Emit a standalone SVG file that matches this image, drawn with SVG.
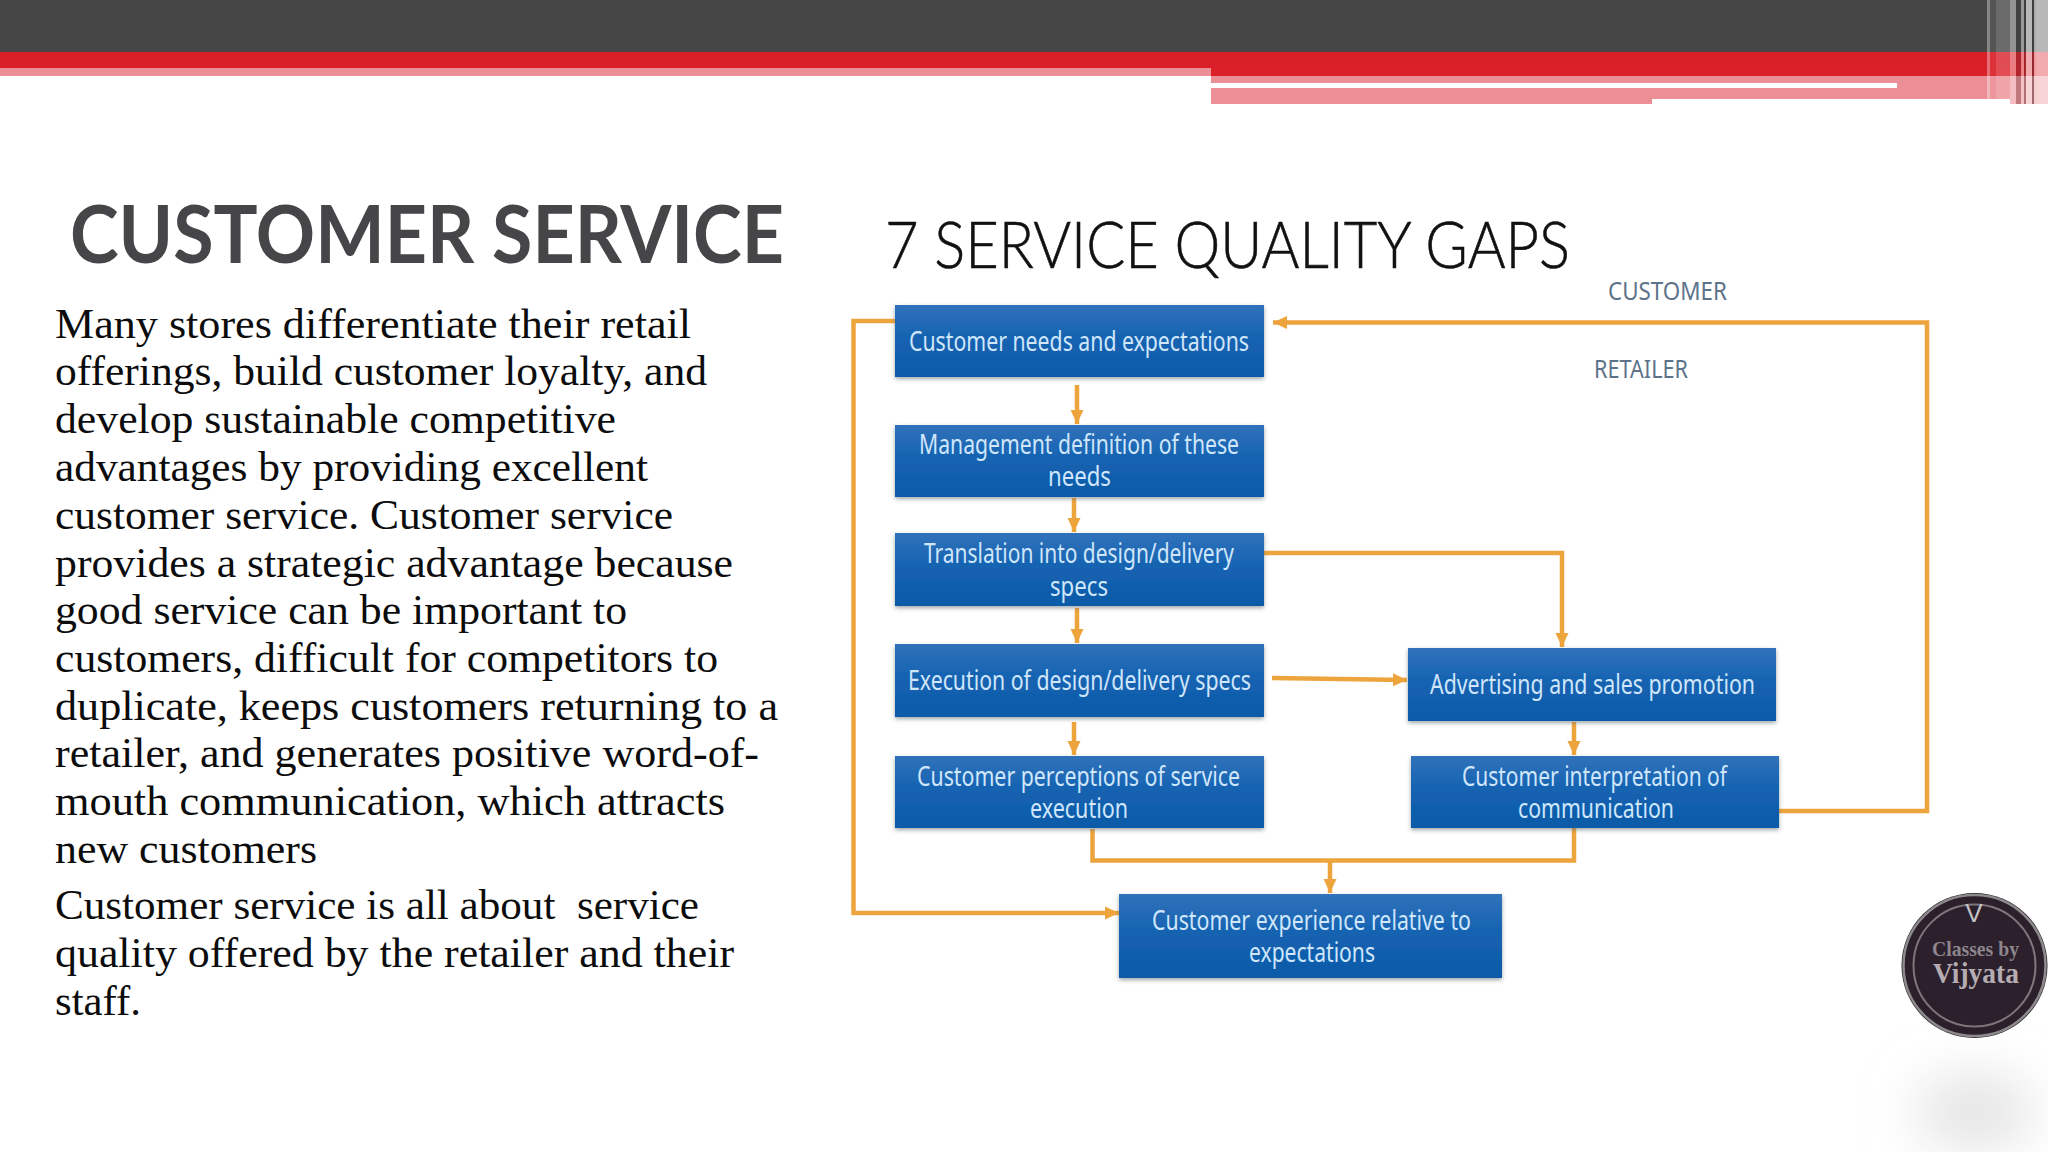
<svg xmlns="http://www.w3.org/2000/svg" width="2048" height="1152" viewBox="0 0 2048 1152">
<style>
.body{font-family:"Liberation Serif",serif;font-size:43px;fill:#0c0c0c}
.box{fill:url(#boxg);filter:url(#sh)}
.bt{font-family:"Noto Sans",sans-serif;font-size:27px;fill:#cfe6fb;text-anchor:start}
.c{fill:none;stroke:#eea43c;stroke-width:4.500;stroke-linejoin:miter}
.a{marker-end:url(#ah)}
.lab{font-family:"Noto Sans",sans-serif;font-size:26px;fill:#5c7389}
.st{fill:#fff}
.dk{fill:#333}
</style>
<defs>
<linearGradient id="boxg" x1="0" y1="0" x2="0" y2="1"><stop offset="0" stop-color="#3172ba"/><stop offset=".45" stop-color="#1563b2"/><stop offset="1" stop-color="#0c5aa8"/></linearGradient>
<filter id="sh" x="-5%" y="-10%" width="110%" height="125%"><feDropShadow dx="0" dy="2" stdDeviation="2" flood-color="#5a6a70" flood-opacity=".6"/></filter>
<filter id="blur" x="-100%" y="-100%" width="300%" height="300%"><feGaussianBlur stdDeviation="26"/></filter>
<marker id="ah" markerUnits="userSpaceOnUse" markerWidth="16" markerHeight="16" refX="14" refY="8" orient="auto"><path d="M0 1.500L14 8L0 14.500z" fill="#eea43c"/></marker>
</defs>
<rect width="2048" height="1152" fill="#fff"/>
<g id="header">
<rect width="2048" height="52" fill="#464646"/>
<rect y="52" width="2048" height="16" fill="#d92028"/>
<rect y="68" width="1211" height="8" fill="#ec8e95"/>
<rect x="1211" y="68" width="837" height="8" fill="#dc2027"/>
<rect x="1211" y="76" width="837" height="23" fill="#ec8e95"/>
<rect x="1211" y="99" width="441" height="5" fill="#ec8e95"/>
<rect x="2010" y="99" width="38" height="5" fill="#ec8e95"/>
<rect x="1211" y="83" width="686" height="5" fill="#fff"/>
<g>
<rect class="st" x="1987" width="3" height="99" opacity=".35"/>
<rect class="st" x="1990" width="6" height="99" opacity=".08"/>
<rect class="st" x="1996" width="14" height="99" opacity=".2"/>
<rect class="st" x="2010" width="6" height="104" opacity=".42"/>
<rect class="dk" x="2016" width="5" height="104" opacity=".25"/>
<rect class="st" x="2021" width="3" height="104" opacity=".45"/>
<rect class="dk" x="2024" width="2" height="104" opacity=".3"/>
<rect class="st" x="2026" width="6" height="104" opacity=".62"/>
<rect class="dk" x="2032" width="2" height="104" opacity=".4"/>
<rect class="st" x="2034" width="2" height="104" opacity=".55"/>
<rect class="st" x="2036" width="12" height="104" opacity=".62"/>
</g>
</g>
<text x="70" y="263" font-family="Lato,sans-serif" font-weight="700" font-size="80" fill="#464547" textLength="714" lengthAdjust="spacingAndGlyphs">CUSTOMER SERVICE</text>
<g id="body-text">
<text class="body" x="55" y="338" textLength="636" lengthAdjust="spacingAndGlyphs">Many stores differentiate their retail</text>
<text class="body" x="55" y="385" textLength="652" lengthAdjust="spacingAndGlyphs">offerings, build customer loyalty, and</text>
<text class="body" x="55" y="433" textLength="561" lengthAdjust="spacingAndGlyphs">develop sustainable competitive</text>
<text class="body" x="55" y="481" textLength="593" lengthAdjust="spacingAndGlyphs">advantages by providing excellent</text>
<text class="body" x="55" y="529" textLength="618" lengthAdjust="spacingAndGlyphs">customer service. Customer service</text>
<text class="body" x="55" y="577" textLength="678" lengthAdjust="spacingAndGlyphs">provides a strategic advantage because</text>
<text class="body" x="55" y="624" textLength="572" lengthAdjust="spacingAndGlyphs">good service can be important to</text>
<text class="body" x="55" y="672" textLength="663" lengthAdjust="spacingAndGlyphs">customers, difficult for competitors to</text>
<text class="body" x="55" y="720" textLength="723" lengthAdjust="spacingAndGlyphs">duplicate, keeps customers returning to a</text>
<text class="body" x="55" y="767" textLength="704" lengthAdjust="spacingAndGlyphs">retailer, and generates positive word-of-</text>
<text class="body" x="55" y="815" textLength="670" lengthAdjust="spacingAndGlyphs">mouth communication, which attracts</text>
<text class="body" x="55" y="863" textLength="262" lengthAdjust="spacingAndGlyphs">new customers</text>
<text class="body" x="55" y="919" textLength="644" lengthAdjust="spacingAndGlyphs" xml:space="preserve">Customer service is all about  service</text>
<text class="body" x="55" y="967" textLength="679" lengthAdjust="spacingAndGlyphs">quality offered by the retailer and their</text>
<text class="body" x="55" y="1015" textLength="86" lengthAdjust="spacingAndGlyphs">staff.</text>
</g>
<text x="885" y="268" font-family="Lato,sans-serif" font-weight="300" font-size="66" fill="#111" stroke="#111" stroke-width=".6" textLength="685" lengthAdjust="spacingAndGlyphs">7 SERVICE QUALITY GAPS</text>
<text class="lab" x="1608" y="300" textLength="119" lengthAdjust="spacingAndGlyphs">CUSTOMER</text>
<text class="lab" x="1594" y="378" textLength="94" lengthAdjust="spacingAndGlyphs">RETAILER</text>
<g id="connectors">
<path class="c a" d="M895 321H853.500V913H1119"/>
<path class="c a" d="M1779 811H1927V322.500H1273"/>
<path class="c a" d="M1077 385V424"/>
<path class="c a" d="M1074 498V532"/>
<path class="c a" d="M1077 608V643"/>
<path class="c a" d="M1074 722V755"/>
<path class="c a" d="M1264 553H1562V647"/>
<path class="c a" d="M1272 678L1407 680"/>
<path class="c a" d="M1574 722V755"/>
<path class="c" d="M1092.500 829V860.500H1574V826"/>
<path class="c a" d="M1330 860V893"/>
</g>
<g id="n1"><rect class="box" x="895" y="305" width="369" height="72"/><text class="bt" x="909" y="351" textLength="340" lengthAdjust="spacingAndGlyphs">Customer needs and expectations</text></g>
<g id="n2"><rect class="box" x="895" y="425" width="369" height="72"/><text class="bt" x="919" y="454" textLength="320" lengthAdjust="spacingAndGlyphs">Management definition of these</text><text class="bt" x="1048" y="486" textLength="63" lengthAdjust="spacingAndGlyphs">needs</text></g>
<g id="n3"><rect class="box" x="895" y="533" width="369" height="73"/><text class="bt" x="924" y="563" textLength="310" lengthAdjust="spacingAndGlyphs">Translation into design/delivery</text><text class="bt" x="1050" y="596" textLength="58" lengthAdjust="spacingAndGlyphs">specs</text></g>
<g id="n4"><rect class="box" x="895" y="644" width="369" height="73"/><text class="bt" x="908" y="690" textLength="343" lengthAdjust="spacingAndGlyphs">Execution of design/delivery specs</text></g>
<g id="n5"><rect class="box" x="895" y="756" width="369" height="72"/><text class="bt" x="917" y="786" textLength="323" lengthAdjust="spacingAndGlyphs">Customer perceptions of service</text><text class="bt" x="1030" y="818" textLength="98" lengthAdjust="spacingAndGlyphs">execution</text></g>
<g id="n6"><rect class="box" x="1408" y="648" width="368" height="73"/><text class="bt" x="1430" y="694" textLength="325" lengthAdjust="spacingAndGlyphs">Advertising and sales promotion</text></g>
<g id="n7"><rect class="box" x="1411" y="756" width="368" height="72"/><text class="bt" x="1462" y="786" textLength="265" lengthAdjust="spacingAndGlyphs">Customer interpretation of</text><text class="bt" x="1518" y="818" textLength="156" lengthAdjust="spacingAndGlyphs">communication</text></g>
<g id="n8"><rect class="box" x="1119" y="894" width="383" height="84"/><text class="bt" x="1152" y="930" textLength="319" lengthAdjust="spacingAndGlyphs">Customer experience relative to</text><text class="bt" x="1249" y="962" textLength="126" lengthAdjust="spacingAndGlyphs">expectations</text></g>
<ellipse cx="1975" cy="1112" rx="60" ry="38" fill="#e4e4e4" filter="url(#blur)"/>
<g id="logo">
<ellipse cx="1974.500" cy="965.500" rx="73" ry="72.500" fill="#2b202c"/>
<ellipse cx="1974.500" cy="965.500" rx="71" ry="70.500" fill="none" stroke="#8d8a8c" stroke-width="2.500"/>
<ellipse cx="1974.500" cy="965.500" rx="61" ry="61" fill="none" stroke="#7d777b" stroke-width="2"/>
<text x="1974" y="922" font-family="Liberation Sans,sans-serif" font-size="26" fill="#c5c2c4" text-anchor="middle">V</text>
<text x="1932" y="956" font-family="Liberation Serif,serif" font-weight="700" font-size="21" fill="#8f858c" textLength="87" lengthAdjust="spacingAndGlyphs">Classes by</text>
<text x="1933" y="983" font-family="Liberation Serif,serif" font-weight="700" font-size="30" fill="#b5adb2" textLength="86" lengthAdjust="spacingAndGlyphs">Vijyata</text>
</g>
</svg>
